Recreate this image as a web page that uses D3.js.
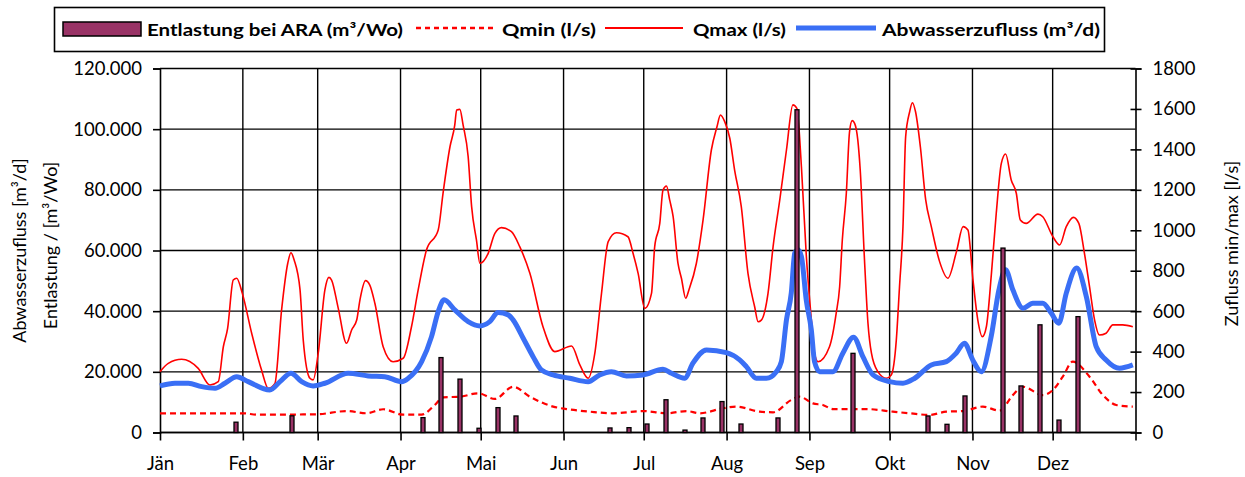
<!DOCTYPE html>
<html>
<head>
<meta charset="utf-8">
<script src="https://cdn.jsdelivr.net/npm/d3@7"></script>
<style>
  body { margin: 0; background: #fff; }
  svg text { font-family: Lato, "Open Sans", sans-serif; fill: #000; }
</style>
</head>
<body>
<div id="chart"></div>
<script>
// month starts (day of year) and labels
const monthStarts = [0, 31, 59, 90, 120, 151, 181, 212, 243, 273, 304, 334, 365];
const monthLabels = ['Jän', 'Feb', 'Mär', 'Apr', 'Mai', 'Jun', 'Jul', 'Aug', 'Sep', 'Okt', 'Nov', 'Dez'];

const leftTicks = [0, 20000, 40000, 60000, 80000, 100000, 120000];
const rightTicks = [0, 200, 400, 600, 800, 1000, 1200, 1400, 1600, 1800];

// Entlastung bei ARA (m³/Wo), weekly
const entlDays = [28, 49, 98, 105, 112, 119, 126, 133, 168, 175, 182, 189, 196, 203, 210, 217, 231, 238, 259, 287, 294, 301, 315, 322, 329, 336, 343];
const entlValues = [3400, 5500, 4900, 24700, 17600, 1400, 8200, 5450, 1500, 1600, 2800, 10800, 800, 4800, 10200, 2800, 4800, 106400, 26100, 5450, 2700, 12050, 60800, 15350, 35500, 4100, 38200];

// Abwasserzufluss (m³/d)
const zuflussDays = [0, 5.6, 10.6, 15.6, 20.6, 24.3, 28.7, 33.0, 41.1, 44.9,
  49.0, 53.0, 57.3, 61.7, 70.4, 77.9, 84.1, 90.4, 92.9, 97.9,
  101.6, 104.1, 106.3, 110.3, 115.3, 119.7, 123.4, 126.5, 130.3, 132.1,
  135.9, 139.6, 142.7, 147.1, 153.3, 160.2, 164.5, 168.9, 174.5, 180.7,
  188.2, 191.4, 196.3, 199.4, 204.5, 211.9, 216.9, 219.4, 223.1, 226.9,
  230.6, 232.5, 234.4, 236.2, 237.5, 238.7, 240.0, 241.8, 243.7, 244.9,
  246.8, 251.8, 255.5, 259.5, 263.0, 266.8, 273.0, 278.0, 282.4, 288.6,
  294.2, 297.9, 301.0, 304.1, 307.3, 311.0, 313.9, 316.4, 319.1, 322.9,
  326.6, 330.3, 333.5, 336.3, 339.1, 343.0, 346.6, 350.3, 354.0, 359.0, 364.0];
const zuflussValues = [15350, 16240, 16240, 15110, 14590, 16240, 18410, 16760, 14030, 16760,
  19540, 16760, 15350, 16240, 19540, 18650, 18410, 16760, 17890, 23360,
  31610, 39860, 43730, 40430, 36560, 35150, 36560, 39530, 38780, 37130,
  31090, 25010, 20630, 18980, 17890, 16760, 18980, 20060, 18650, 18980,
  20860, 19540, 17890, 22840, 27230, 26330, 23930, 21710, 17890, 17890,
  20060, 23360, 37130, 45940, 59140, 60230, 58010, 43700, 33830, 23360,
  20060, 20060, 26140, 31420, 25010, 18980, 16760, 16240, 17890, 22280,
  23360, 26140, 29440, 23930, 20060, 31610, 47030, 53630, 47030, 40990,
  42640, 42640, 39340, 36040, 45940, 54190, 44810, 28310, 23930, 21190, 22280];

// Qmax (l/s)
const qmaxDays = [0, 3.1, 8.1, 14.3, 18.7, 21.8, 23.7, 25.3, 27.4, 28.7,
  30.8, 34.3, 38.0, 40.5, 43.0, 45.5, 47.8, 49.0, 50.2, 52.4,
  53.6, 56.1, 57.3, 59.2, 61.7, 63.2, 64.2, 66.7, 69.8, 71.7,
  73.6, 74.8, 76.9, 78.5, 80.4, 83.5, 87.2, 91.0, 94.1, 96.6,
  99.7, 104.1, 105.9, 108.5, 110.3, 111.0, 112.2, 113.4, 115.3, 116.6,
  118.4, 119.7, 122.8, 125.3, 127.8, 131.5, 134.6, 138.4, 143.3, 147.7,
  154.0, 157.1, 160.2, 162.7, 165.2, 167.7, 170.8, 175.1, 177.0, 178.9,
  181.4, 183.9, 185.1, 187.0, 188.2, 189.5, 190.7, 192.0, 193.8, 195.1,
  196.7, 197.9, 200.7, 203.2, 206.3, 208.4, 209.7, 211.3, 213.2, 215.0,
  217.5, 220.0, 222.5, 223.8, 225.0, 227.5, 229.4, 231.9, 234.4, 236.8,
  238.3, 240.0, 241.8, 243.7, 244.9, 246.2, 250.5, 253.0, 254.3, 255.3,
  256.8, 258.0, 259.0, 259.9, 261.1, 262.0, 263.6, 264.9, 266.2, 268.6,
  271.8, 273.6, 275.5, 276.7, 278.0, 279.0, 280.5, 281.5, 282.7, 284.5,
  286.5, 288.6, 291.7, 294.8, 298.0, 300.5, 302.3, 304.2, 306.0, 307.7,
  309.2, 311.1, 312.9, 314.8, 316.4, 318.5, 320.4, 321.9, 324.1, 328.5,
  330.3, 334.1, 336.6, 339.1, 341.8, 343.8, 345.9, 347.8, 349.7, 351.5,
  354.0, 356.5, 360.2, 364.0];
const qmaxValues = [301, 342, 362, 317, 235, 251, 424, 515, 754, 763,
  688, 491, 309, 219, 243, 606, 837, 889, 853, 705,
  457, 268, 260, 392, 705, 767, 754, 614, 441, 507,
  556, 655, 751, 729, 639, 424, 350, 367, 523, 705,
  902, 1001, 1183, 1413, 1521, 1595, 1598, 1521, 1364, 1117,
  952, 837, 886, 985, 1013, 993, 919, 787, 523, 400,
  428, 334, 268, 392, 688, 944, 988, 968, 886, 787,
  614, 688, 919, 1034, 1199, 1219, 1150, 1067, 837, 763,
  664, 705, 837, 1051, 1397, 1512, 1570, 1537, 1455, 1298,
  1117, 787, 622, 548, 556, 688, 919, 1150, 1397, 1620,
  1603, 1314, 880, 560, 392, 350, 424, 589, 721, 952,
  1183, 1487, 1542, 1529, 1446, 1298, 853, 540, 392, 301,
  268, 284, 457, 721, 1018, 1463, 1586, 1631, 1586, 1413,
  1150, 1018, 845, 763, 894, 1018, 1001, 754, 556, 474,
  523, 787, 1084, 1331, 1377, 1249, 1183, 1051, 1034, 1080,
  1067, 968, 927, 1018, 1064, 1034, 886, 721, 556, 482,
  491, 532, 532, 523];

// Qmin (l/s)
const qminDays = [0, 31, 36.6, 58.7, 69.8, 77.3, 83.5, 91.0, 97.9, 102.8,
  106.0, 112.2, 119.0, 125.3, 132.1, 138.4, 147.1, 152.1, 160.8, 169.5,
  180.7, 189.5, 197.0, 201.9, 210.7, 215.7, 224.4, 229.4, 236.2, 239.3,
  244.3, 248.0, 251.8, 264.3, 274.2, 280.5, 288.0, 294.2, 300.4, 307.9,
  314.1, 319.1, 322.9, 330.3, 334.1, 337.8, 341.5, 347.8, 352.8, 357.8, 364.0];
const qminValues = [95, 95, 88, 90, 106, 95, 115, 88, 88, 136,
  174, 177, 194, 166, 226, 177, 128, 116, 103, 95,
  106, 95, 106, 95, 120, 128, 103, 100, 161, 177,
  144, 136, 116, 116, 103, 95, 87, 103, 106, 128,
  108, 185, 226, 185, 210, 276, 350, 276, 185, 136, 128];

const width = 1245, height = 477;
const margin = { left: 160, right: 109.5, top: 68.5, bottom: 44.5 };

const svg = d3.select('#chart').append('svg')
  .attr('width', width)
  .attr('height', height);

const x = d3.scaleLinear().domain([0, 365]).range([margin.left, width - margin.right]);
const yL = d3.scaleLinear().domain([0, 120000]).range([height - margin.bottom, margin.top]);
const yR = d3.scaleLinear().domain([0, 1800]).range([height - margin.bottom, margin.top]);

const fmtDe = d3.formatLocale({ decimal: ',', thousands: '.', grouping: [3], currency: ['', '€'] }).format(',');

// grid
const grid = svg.append('g').attr('stroke', '#000').attr('stroke-width', 1.4);
leftTicks.forEach(function(t) {
  grid.append('line')
    .attr('x1', x(0)).attr('x2', x(365))
    .attr('y1', yL(t)).attr('y2', yL(t));
});
monthStarts.slice(1, 12).forEach(function(d) {
  grid.append('line')
    .attr('x1', x(d)).attr('x2', x(d))
    .attr('y1', yL(0)).attr('y2', yL(120000));
});

// axes
const axisLeft = svg.append('g')
  .attr('transform', 'translate(' + x(0) + ',0)')
  .call(d3.axisLeft(yL).tickValues(leftTicks).tickSize(7).tickPadding(11)
    .tickFormat(function(d) { return d === 0 ? '0' : fmtDe(d); }));

const axisRight = svg.append('g')
  .attr('transform', 'translate(' + x(365) + ',0)')
  .call(d3.axisRight(yR).tickValues(rightTicks).tickSize(6).tickPadding(11)
    .tickFormat(d3.format('d')));
axisRight.selectAll('.tick line').attr('x1', -5);

const axisBottom = svg.append('g')
  .attr('transform', 'translate(0,' + yL(0) + ')')
  .call(d3.axisBottom(x).tickValues(monthStarts).tickSize(8).tickPadding(16)
    .tickFormat(function(d, i) { return monthLabels[i] || ''; }));

[axisLeft, axisRight, axisBottom].forEach(function(a) {
  a.selectAll('.domain').attr('stroke', '#000').attr('stroke-width', 1.6);
  a.selectAll('.tick line').attr('stroke', '#000').attr('stroke-width', 1.6);
  a.selectAll('text').style('font-size', '18.5px').attr('fill', '#000');
});
axisBottom.select('.domain').attr('d', 'M' + x(0) + ',0H' + x(365));

// axis titles
svg.append('text')
  .attr('transform', 'translate(26,' + yL(60000) + ') rotate(-90)')
  .attr('text-anchor', 'middle')
  .style('font-size', '18px')
  .text('Abwasserzufluss [m³/d]');
svg.append('text')
  .attr('transform', 'translate(57,' + (yL(60000) - 5) + ') rotate(-90)')
  .attr('text-anchor', 'middle')
  .style('font-size', '18px')
  .text('Entlastung / [m³/Wo]');
svg.append('text')
  .attr('transform', 'translate(1238,' + (yL(60000) - 7) + ') rotate(-90)')
  .attr('text-anchor', 'middle')
  .style('font-size', '18px')
  .text('Zufluss min/max [l/s]');

// lines
const qmin = qminDays.map(function(d, i) { return [d, qminValues[i]]; });
const qmax = qmaxDays.map(function(d, i) { return [d, qmaxValues[i]]; });
const zufluss = zuflussDays.map(function(d, i) { return [d, zuflussValues[i]]; });

const lineR = d3.line().x(function(d) { return x(d[0]); }).y(function(d) { return yR(d[1]); }).curve(d3.curveMonotoneX);
const lineL = d3.line().x(function(d) { return x(d[0]); }).y(function(d) { return yL(d[1]); }).curve(d3.curveMonotoneX);

svg.append('path').datum(qmin)
  .attr('d', lineR).attr('fill', 'none')
  .attr('stroke', '#ff0000').attr('stroke-width', 2.2).attr('stroke-dasharray', '6,4');

svg.append('path').datum(qmax)
  .attr('d', lineR).attr('fill', 'none')
  .attr('stroke', '#ff0000').attr('stroke-width', 1.6);

svg.append('path').datum(zufluss)
  .attr('d', lineL).attr('fill', 'none')
  .attr('stroke', '#3a6ff5').attr('stroke-width', 5).attr('stroke-linejoin', 'round');

// bars
const barW = 4;
svg.append('g').selectAll('rect')
  .data(entlDays.map(function(d, i) { return { day: d, value: entlValues[i] }; }))
  .enter().append('rect')
  .attr('x', function(d) { return Math.round(x(d.day + 0.3)) - barW / 2; })
  .attr('width', barW)
  .attr('y', function(d) { return yL(d.value); })
  .attr('height', function(d) { return yL(0) - yL(d.value); })
  .attr('fill', '#993366')
  .attr('stroke', '#000')
  .attr('stroke-width', 1.3);

// legend
const legend = svg.append('g');
legend.append('rect')
  .attr('x', 54.5).attr('y', 7.5).attr('width', 1050).attr('height', 44)
  .attr('fill', '#fff').attr('stroke', '#000').attr('stroke-width', 1.6);

const legendItems = [
  { kind: 'bar', label: 'Entlastung bei ARA (m³/Wo)', x0: 63, x1: 141, tx: 147, tw: 256 },
  { kind: 'dash', label: 'Qmin (l/s)', x0: 416, x1: 493, tx: 502, tw: 94 },
  { kind: 'line', label: 'Qmax (l/s)', x0: 605, x1: 683, tx: 693, tw: 93 },
  { kind: 'thick', label: 'Abwasserzufluss (m³/d)', x0: 796, x1: 876, tx: 882, tw: 218 }
];
const ly = 29;
legendItems.forEach(function(it) {
  if (it.kind === 'bar') {
    legend.append('rect')
      .attr('x', it.x0).attr('y', ly - 7).attr('width', it.x1 - it.x0).attr('height', 14)
      .attr('fill', '#993366').attr('stroke', '#000').attr('stroke-width', 1.5);
  } else {
    legend.append('line')
      .attr('x1', it.x0).attr('x2', it.x1).attr('y1', ly - 1).attr('y2', ly - 1)
      .attr('stroke', it.kind === 'thick' ? '#3a6ff5' : '#ff0000')
      .attr('stroke-width', it.kind === 'thick' ? 5 : (it.kind === 'dash' ? 2.5 : 2))
      .attr('stroke-dasharray', it.kind === 'dash' ? '5,4' : null);
  }
  const t = legend.append('text')
    .attr('x', it.tx).attr('y', ly + 7)
    .style('font-size', '17px').style('font-weight', 'bold')
    .text(it.label);
  const len = t.node().getComputedTextLength();
  if (Math.abs(len - it.tw) > 3) {
    t.attr('textLength', it.tw).attr('lengthAdjust', 'spacingAndGlyphs');
  }
});
</script>
</body>
</html>
